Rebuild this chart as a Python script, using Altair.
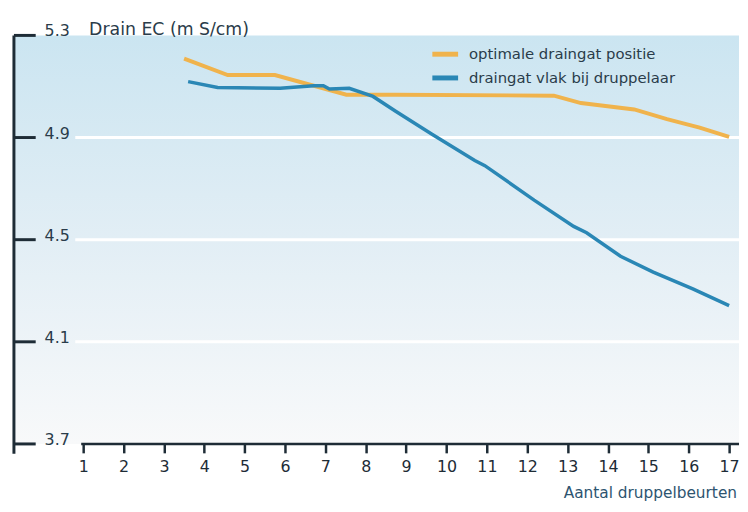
import altair as alt
import pandas as pd

# ---------------- data ----------------
series_names = ["optimale draingat positie", "draingat vlak bij druppelaar"]
series_colors = ["#f0b34c", "#2a87b5"]

orange_x = [3.5, 4.58, 5.75, 7.52, 8.74, 12.66, 13.33, 14.65, 15.46, 16.27, 17.0]
orange_y = [5.209, 5.145, 5.145, 5.068, 5.068, 5.064, 5.035, 5.010, 4.972, 4.939, 4.903]

blue_x = [3.6, 4.33, 5.88, 6.71, 6.95, 7.10, 7.59, 8.18, 8.74, 9.64, 10.70, 10.95,
          12.17, 13.15, 13.47, 14.31, 15.12, 16.10, 17.0]
blue_y = [5.119, 5.096, 5.093, 5.103, 5.103, 5.090, 5.093, 5.061, 5.003, 4.913, 4.810, 4.790,
          4.655, 4.552, 4.527, 4.435, 4.373, 4.307, 4.242]

x_ticks = list(range(1, 18))
y_ticks = [3.7, 4.1, 4.5, 4.9, 5.3]
grid_values = [4.1, 4.5, 4.9]

y_title = "Drain EC (m S/cm)"
x_title = "Aantal druppelbeurten"

# ---------------- layout ----------------
W, H = 733, 413
FONT = "DejaVu Sans"
DARK = "#1e2c36"
TEXT = "#2a3c4a"

xscale = alt.Scale(domain=[-0.715, 17.245], nice=False, zero=False)
yscale = alt.Scale(domain=[3.7, 5.3], nice=False, zero=False)

lines_df = pd.concat([
    pd.DataFrame({"x": orange_x, "y": orange_y, "series": series_names[0], "k": 0}),
    pd.DataFrame({"x": blue_x, "y": blue_y, "series": series_names[1], "k": 1}),
], ignore_index=True)

one = pd.DataFrame({"a": [0]})

bg = alt.Chart(one).mark_rect(
    fill=alt.Gradient(
        gradient="linear",
        stops=[alt.GradientStop(color="#cbe5f1", offset=0),
               alt.GradientStop(color="#e2eef5", offset=0.5),
               alt.GradientStop(color="#f8f9fa", offset=1)],
        x1=0, x2=0, y1=0, y2=1,
    )
).encode(x=alt.value(0), x2=alt.value(W), y=alt.value(0), y2=alt.value(H))

grid = alt.Chart(pd.DataFrame({"v": grid_values})).mark_rule(
    color="white", strokeWidth=3
).encode(
    y=alt.Y("v:Q", scale=yscale, axis=None),
    x=alt.value(62), x2=alt.value(W),
)

color_enc = alt.Color(
    "series:N",
    scale=alt.Scale(domain=series_names, range=series_colors),
    legend=alt.Legend(
        orient="none", legendX=424, legendY=7, title=None,
        symbolType="M-1.37,0H1.37", symbolSize=361, symbolStrokeWidth=5,
        labelFontSize=15, labelColor=TEXT, labelFont=FONT, labelLimit=400,
        rowPadding=2, labelOffset=12,
    ),
)

x_enc = alt.X(
    "x:Q", scale=xscale,
    axis=alt.Axis(
        values=x_ticks, domain=False, grid=False, title=None,
        tickSize=9, tickWidth=2.5, tickColor=DARK,
        labelFontSize=16, labelColor=DARK, labelFont=FONT, labelPadding=6,
        format="d",
    ),
)

orange_line = alt.Chart(lines_df[lines_df.k == 0]).mark_line(strokeWidth=4).encode(
    x=x_enc, y=alt.Y("y:Q", scale=yscale, axis=None), color=color_enc,
)
blue_line = alt.Chart(lines_df[lines_df.k == 1]).mark_line(strokeWidth=3.5).encode(
    x=alt.X("x:Q", scale=xscale), y=alt.Y("y:Q", scale=yscale, axis=None), color=color_enc,
)

yaxis_line = alt.Chart(one).mark_rule(color=DARK, strokeWidth=3).encode(
    x=alt.value(0), y=alt.value(0), y2=alt.value(H + 10)
)
ytick_df = pd.DataFrame({"v": y_ticks})
ytick_marks = alt.Chart(ytick_df).mark_rule(color=DARK, strokeWidth=3).encode(
    y=alt.Y("v:Q", scale=yscale, axis=None), x=alt.value(0), x2=alt.value(22)
)
ytick_labels = alt.Chart(ytick_df).mark_text(
    align="left", baseline="middle", dy=-4, fontSize=16, font=FONT, color=TEXT
).encode(
    y=alt.Y("v:Q", scale=yscale, axis=None), x=alt.value(31),
    text=alt.Text("v:Q", format=".1f"),
)

xaxis_line = alt.Chart(one).mark_rule(color=DARK, strokeWidth=2.5).encode(
    x=alt.value(68), x2=alt.value(W), y=alt.value(H)
)

ytitle = alt.Chart(one).mark_text(
    text=y_title, align="left", baseline="middle", fontSize=17.5, font=FONT, color=TEXT
).encode(x=alt.value(76), y=alt.value(-5))

xtitle = alt.Chart(one).mark_text(
    text=x_title, align="right", baseline="middle", fontSize=15.5, font=FONT, color="#2d5470"
).encode(x=alt.value(W - 2), y=alt.value(463))

chart = alt.layer(
    bg, grid, orange_line, blue_line, yaxis_line, ytick_marks, ytick_labels,
    xaxis_line, ytitle, xtitle,
).properties(
    width=W, height=H,
    autosize=alt.AutoSizeParams(type="none"),
    padding={"left": 6, "top": 25, "right": 1, "bottom": 58},
    background="white",
).configure_view(stroke=None)

chart.save("out.html", embed_options={"renderer": "svg", "actions": False})
